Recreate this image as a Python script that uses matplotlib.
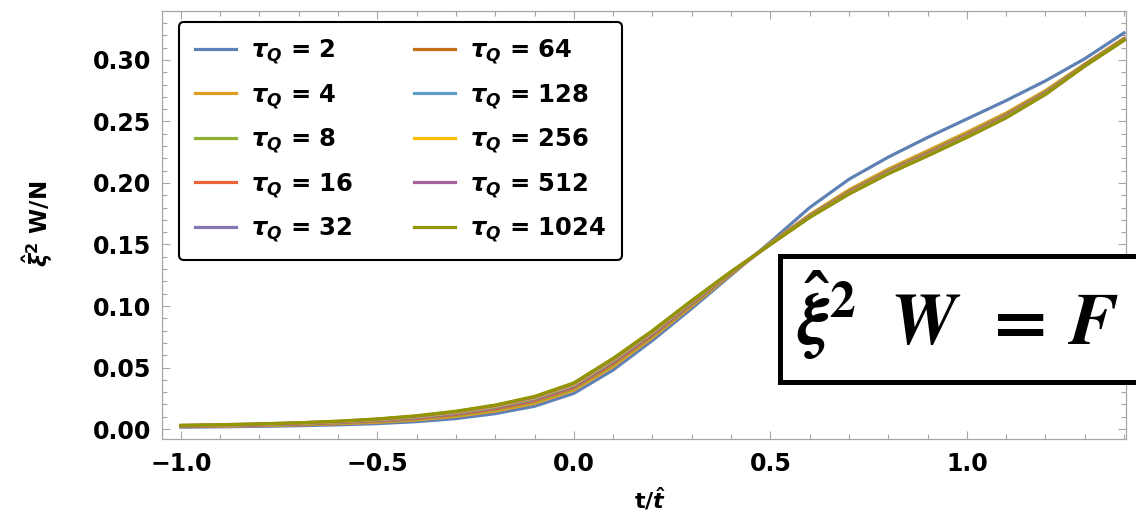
import matplotlib
matplotlib.use("Agg")
import matplotlib.pyplot as plt
from matplotlib.patches import Rectangle
from matplotlib.ticker import MultipleLocator

# scaled time t / t_hat
t_scaled = [-1.0, -0.9, -0.8, -0.7, -0.6, -0.5, -0.4, -0.3, -0.2, -0.1, 0.0,
            0.1, 0.2, 0.3, 0.4, 0.5, 0.6, 0.7, 0.8, 0.9, 1.0, 1.1, 1.2, 1.3, 1.4]

tau_q = [2, 4, 8, 16, 32, 64, 128, 256, 512, 1024]

# xi_hat^2 W / N for each quench time
tau_2 = [0.0015, 0.0018, 0.0022, 0.0027, 0.0034, 0.0044, 0.0060, 0.0085, 0.0125, 0.0185, 0.0290,
         0.0480, 0.0720, 0.0980, 0.1250, 0.1520, 0.1800, 0.2030, 0.2210, 0.2370, 0.2520,
         0.2670, 0.2830, 0.3010, 0.3220]
tau_4 = [0.0020, 0.0023, 0.0028, 0.0034, 0.0043, 0.0055, 0.0074, 0.0103, 0.0146, 0.0209, 0.0316,
         0.0509, 0.0744, 0.1000, 0.1259, 0.1510, 0.1742, 0.1944, 0.2113, 0.2262, 0.2412,
         0.2569, 0.2751, 0.2967, 0.3177]
tau_8 = [0.0022, 0.0026, 0.0031, 0.0038, 0.0048, 0.0061, 0.0082, 0.0112, 0.0157, 0.0221, 0.0328,
         0.0523, 0.0756, 0.1009, 0.1264, 0.1508, 0.1736, 0.1934, 0.2102, 0.2250, 0.2400,
         0.2558, 0.2742, 0.2962, 0.3172]
tau_16 = [0.0023, 0.0027, 0.0033, 0.0040, 0.0051, 0.0065, 0.0086, 0.0118, 0.0164, 0.0229, 0.0337,
          0.0532, 0.0764, 0.1016, 0.1267, 0.1506, 0.1732, 0.1928, 0.2095, 0.2242, 0.2392,
          0.2551, 0.2736, 0.2959, 0.3169]
tau_32 = [0.0025, 0.0029, 0.0035, 0.0043, 0.0054, 0.0069, 0.0091, 0.0124, 0.0171, 0.0237, 0.0345,
          0.0542, 0.0772, 0.1022, 0.1270, 0.1504, 0.1729, 0.1923, 0.2090, 0.2236, 0.2386,
          0.2545, 0.2732, 0.2957, 0.3167]
tau_64 = [0.0026, 0.0030, 0.0037, 0.0045, 0.0056, 0.0072, 0.0095, 0.0129, 0.0176, 0.0243, 0.0352,
          0.0549, 0.0778, 0.1027, 0.1272, 0.1503, 0.1726, 0.1920, 0.2086, 0.2232, 0.2382,
          0.2541, 0.2729, 0.2955, 0.3165]
tau_128 = [0.0027, 0.0032, 0.0038, 0.0046, 0.0058, 0.0074, 0.0098, 0.0133, 0.0181, 0.0249, 0.0358,
           0.0556, 0.0784, 0.1032, 0.1274, 0.1502, 0.1724, 0.1916, 0.2082, 0.2228, 0.2378,
           0.2537, 0.2726, 0.2953, 0.3163]
tau_256 = [0.0028, 0.0033, 0.0039, 0.0048, 0.0060, 0.0077, 0.0102, 0.0137, 0.0186, 0.0255, 0.0364,
           0.0563, 0.0790, 0.1037, 0.1276, 0.1501, 0.1722, 0.1914, 0.2079, 0.2225, 0.2375,
           0.2534, 0.2723, 0.2952, 0.3162]
tau_512 = [0.0029, 0.0034, 0.0041, 0.0050, 0.0062, 0.0080, 0.0105, 0.0141, 0.0191, 0.0260, 0.0370,
           0.0569, 0.0795, 0.1041, 0.1278, 0.1500, 0.1721, 0.1911, 0.2076, 0.2222, 0.2372,
           0.2531, 0.2721, 0.2951, 0.3161]
tau_1024 = [0.0030, 0.0035, 0.0042, 0.0051, 0.0064, 0.0082, 0.0108, 0.0145, 0.0195, 0.0265, 0.0375,
            0.0575, 0.0800, 0.1045, 0.1280, 0.1500, 0.1720, 0.1910, 0.2075, 0.2220, 0.2370,
            0.2530, 0.2720, 0.2950, 0.3160]

series = [tau_2, tau_4, tau_8, tau_16, tau_32, tau_64, tau_128, tau_256, tau_512, tau_1024]

# Mathematica default plot palette
colors = ["#5E81B5", "#E19C24", "#8FB032", "#EB6235", "#8778B3",
          "#C56E1A", "#5D9EC7", "#FFBF00", "#A5609D", "#929600"]

plt.rcParams["font.family"] = ["DejaVu Sans"]
plt.rcParams["font.weight"] = "bold"
plt.rcParams["mathtext.fontset"] = "custom"
plt.rcParams["mathtext.rm"] = "DejaVu Sans:bold"
plt.rcParams["mathtext.it"] = "DejaVu Sans:italic:bold"
plt.rcParams["mathtext.bf"] = "DejaVu Sans:bold"

W, H = 1136, 516
fig = plt.figure(figsize=(W / 100, H / 100), dpi=100)
ax = fig.add_axes([162 / W, 1 - 438.5 / H, (1126 - 162) / W, (438.5 - 11) / H])

for vals, tq, c in zip(series, tau_q, colors):
    ax.plot(t_scaled, vals, color=c, lw=2.3, label=r"$\tau_Q$ = %d" % tq)

ax.set_xlim(-1.048, 1.405)
ax.set_ylim(-0.0077, 0.3398)
ax.xaxis.set_major_locator(MultipleLocator(0.5))
ax.xaxis.set_minor_locator(MultipleLocator(0.1))
ax.yaxis.set_major_locator(MultipleLocator(0.05))
ax.yaxis.set_minor_locator(MultipleLocator(0.01))
ax.xaxis.set_major_formatter(lambda v, p: ("%.1f" % v).replace("-", "\u2212"))
ax.yaxis.set_major_formatter(lambda v, p: "%.2f" % v)

for s in ax.spines.values():
    s.set_color("#a6a6a6")
    s.set_linewidth(0.9)
ax.tick_params(which="both", direction="in", top=True, right=True, color="#a6a6a6",
               labelsize=17, width=0.8)
ax.tick_params(which="major", length=6)
ax.tick_params(which="minor", length=3.5)
ax.tick_params(axis="x", pad=10)
ax.tick_params(axis="y", pad=8)

fig.text(38 / W, 1 - 224 / H, r"$\hat{\xi}^{2}$ W/N", rotation=90, ha="center", va="center",
         fontsize=16.5, fontweight="bold")
fig.text(650 / W, 1 - 499 / H, r"t/$\hat{t}$", ha="center", va="center",
         fontsize=16, fontweight="bold")

leg = ax.legend(ncol=2, loc="upper left", bbox_to_anchor=((179 - 162) / (1126 - 162), (438.5 - 22) / (438.5 - 11)),
                prop={"size": 17.5, "weight": "bold"}, frameon=True, fancybox=True, edgecolor="black",
                framealpha=1, handlelength=1.7, handletextpad=0.6, columnspacing=2.5,
                labelspacing=0.66, borderpad=0.65, borderaxespad=0)
leg.get_frame().set_linewidth(1.5)

# boxed scaling relation, running off the right edge
fig.patches.append(Rectangle((779.5 / W, 1 - 381.5 / H), 500 / W, 126 / H, transform=fig.transFigure,
                             facecolor="white", edgecolor="black", lw=3.6, zorder=5))
fig.text(797 / W, 1 - 345 / H, r"$\hat{\xi}^2\;\;W\;\,=\,F$", math_fontfamily="stix",
         fontsize=53, fontweight="normal", ha="left", va="baseline", zorder=6)

fig.savefig("out.png", dpi=100)
